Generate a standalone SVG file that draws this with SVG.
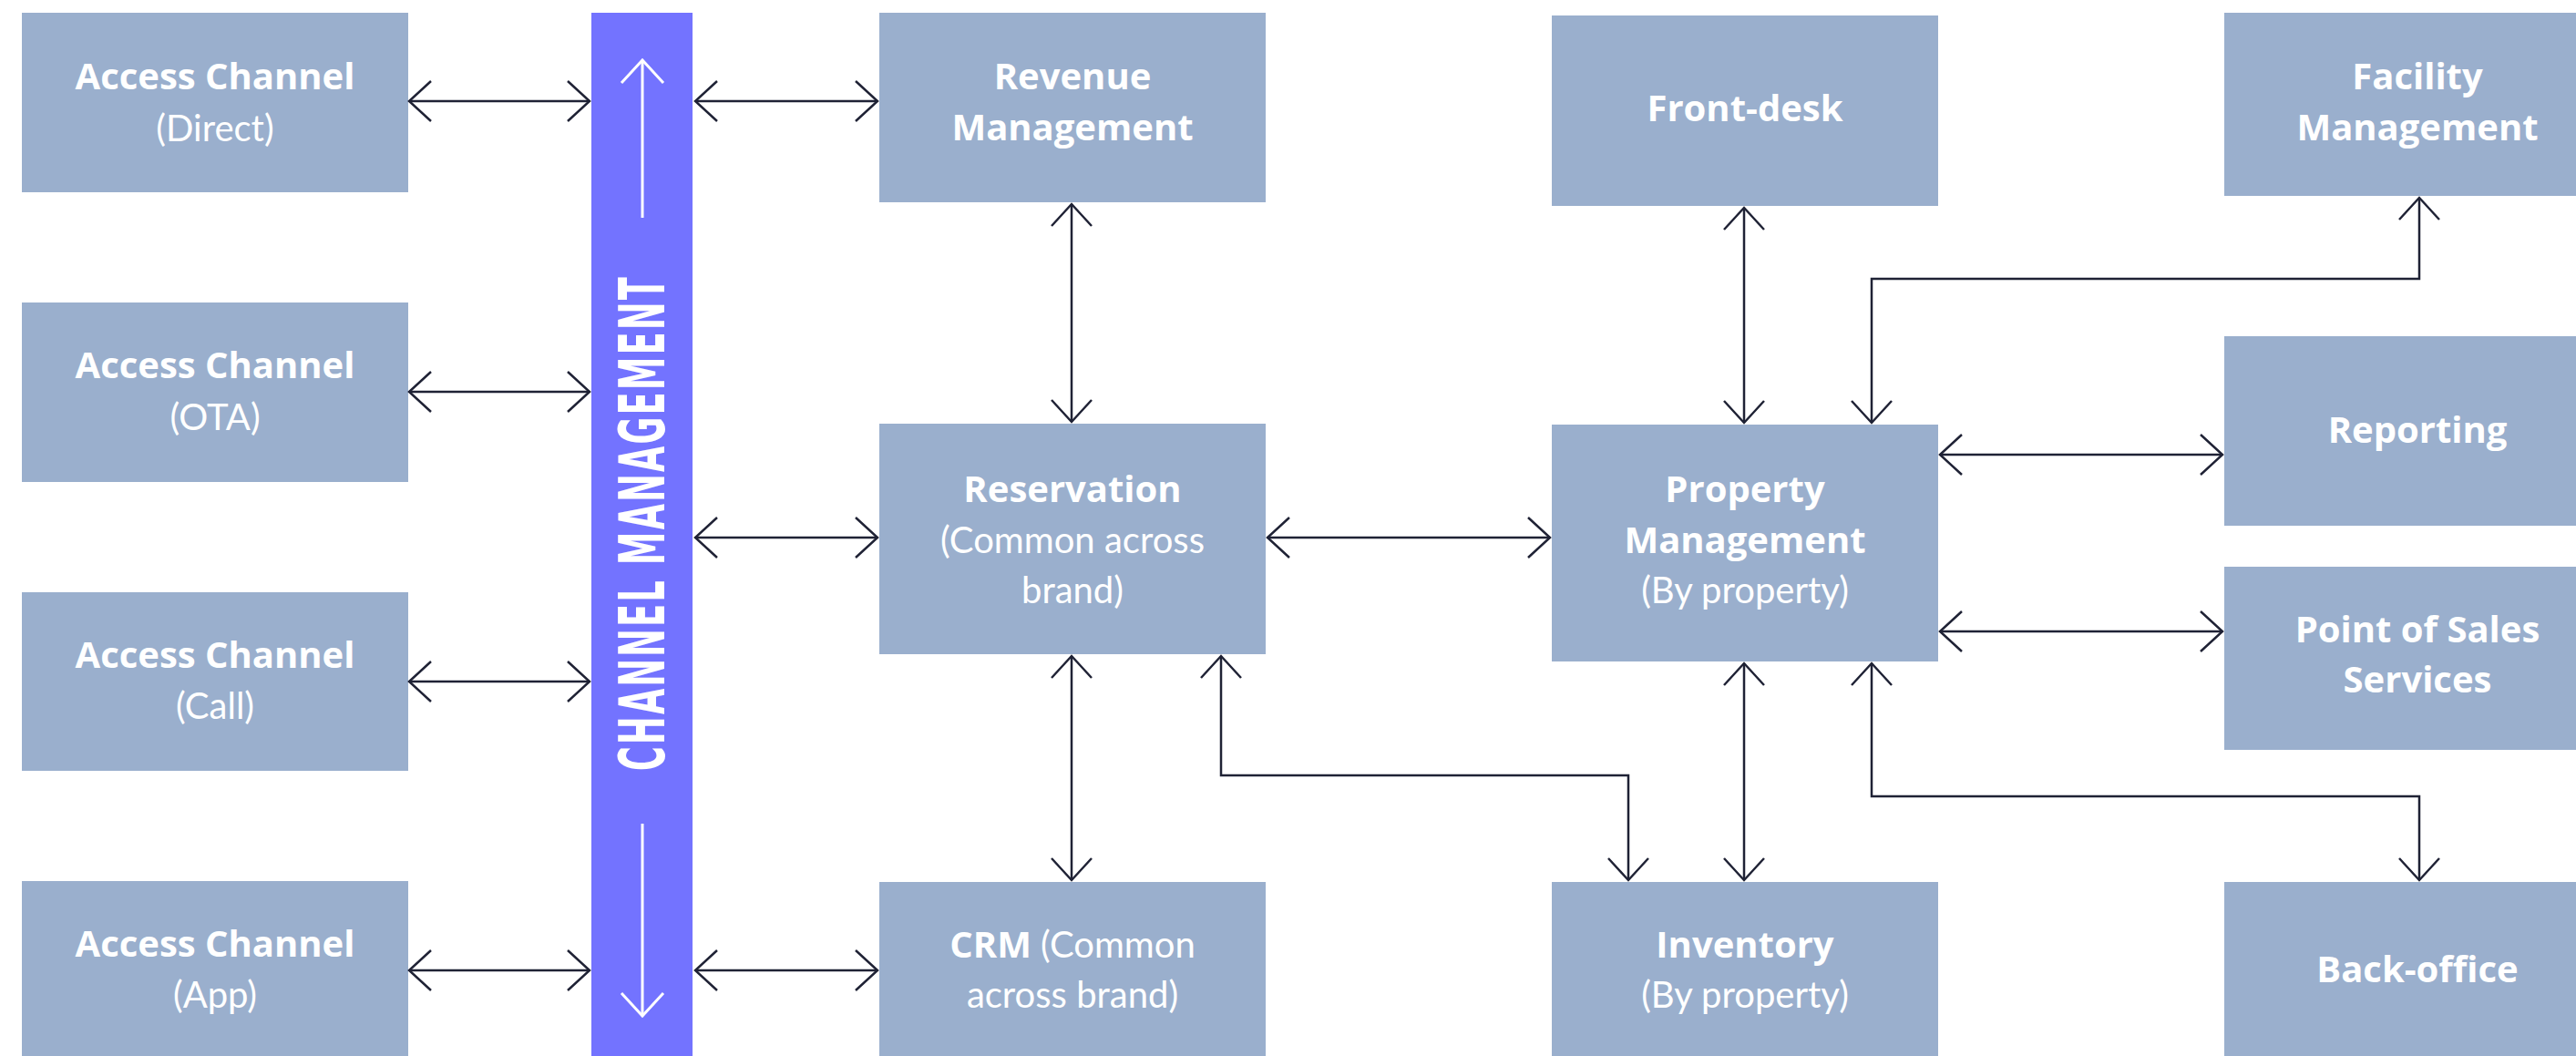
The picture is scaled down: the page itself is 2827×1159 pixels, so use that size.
<svg xmlns="http://www.w3.org/2000/svg" width="2827" height="1159" viewBox="0 0 2827 1159">
<style>
.box{fill:#9aafcd}
.t{font-family:"Open Sans","Lato","Liberation Sans",sans-serif;font-weight:700;font-size:40px;fill:#fff;text-anchor:middle}
.s{font-family:"Lato","Open Sans","Liberation Sans",sans-serif;font-weight:400;font-size:40px;fill:#fff;text-anchor:middle}
.b{font-family:"Open Sans","Lato","Liberation Sans",sans-serif;font-weight:700}
.c{fill:none;stroke:#1f2235;stroke-width:2.5;marker-start:url(#ah);marker-end:url(#ah)}
.w{fill:none;stroke:#fff;stroke-width:3;marker-end:url(#wh)}
.bar{fill:#7373ff}
.bt{font-family:"Liberation Sans Narrow","DejaVu Sans Condensed","Roboto",sans-serif;font-weight:700;font-size:69px;fill:#fff;text-anchor:middle;letter-spacing:4px}
</style>
<defs>
<marker id="ah" markerUnits="userSpaceOnUse" viewBox="-30 -30 40 60" markerWidth="40" markerHeight="60" refX="0" refY="0" orient="auto-start-reverse" overflow="visible">
<path d="M-24,-22 L0,0 L-24,22" fill="none" stroke="#1f2235" stroke-width="2.5"/>
</marker>
<marker id="wh" markerUnits="userSpaceOnUse" viewBox="-30 -30 40 60" markerWidth="40" markerHeight="60" refX="0" refY="0" orient="auto" overflow="visible">
<path d="M-25,-23 L0,0 L-25,23" fill="none" stroke="#fff" stroke-width="3"/>
</marker>
</defs>
<rect width="2827" height="1159" fill="#fff"/>

<g id="channel-management">
<rect class="bar" x="649" y="14" width="111" height="1150"/>
<text class="bt" transform="translate(729,574) rotate(-90)" textLength="544" lengthAdjust="spacingAndGlyphs">CHANNEL MANAGEMENT</text>
<line class="w" x1="705" y1="239" x2="705" y2="66"/>
<line class="w" x1="705" y1="904" x2="705" y2="1115"/>
</g>

<g id="access-direct">
<rect class="box" x="24" y="14" width="424" height="197"/>
<text class="t" x="236" y="98">Access Channel</text>
<text class="s" x="236" y="155">(Direct)</text>
</g>
<g id="access-ota">
<rect class="box" x="24" y="332" width="424" height="197"/>
<text class="t" x="236" y="415">Access Channel</text>
<text class="s" x="236" y="472">(OTA)</text>
</g>
<g id="access-call">
<rect class="box" x="24" y="650" width="424" height="196"/>
<text class="t" x="236" y="733">Access Channel</text>
<text class="s" x="236" y="789">(Call)</text>
</g>
<g id="access-app">
<rect class="box" x="24" y="967" width="424" height="200"/>
<text class="t" x="236" y="1050">Access Channel</text>
<text class="s" x="236" y="1106">(App)</text>
</g>

<g id="revenue">
<rect class="box" x="965" y="14" width="424" height="208"/>
<text class="t" x="1177" y="98">Revenue</text>
<text class="t" x="1177" y="154">Management</text>
</g>
<g id="reservation">
<rect class="box" x="965" y="465" width="424" height="253"/>
<text class="t" x="1177" y="551">Reservation</text>
<text class="s" x="1177" y="607">(Common across</text>
<text class="s" x="1177" y="662">brand)</text>
</g>
<g id="crm">
<rect class="box" x="965" y="968" width="424" height="200"/>
<text class="s" x="1177" y="1051"><tspan class="b">CRM</tspan> (Common</text>
<text class="s" x="1177" y="1106">across brand)</text>
</g>

<g id="front-desk">
<rect class="box" x="1703" y="17" width="424" height="209"/>
<text class="t" x="1915" y="133">Front-desk</text>
</g>
<g id="property">
<rect class="box" x="1703" y="466" width="424" height="260"/>
<text class="t" x="1915" y="551">Property</text>
<text class="t" x="1915" y="607">Management</text>
<text class="s" x="1915" y="662">(By property)</text>
</g>
<g id="inventory">
<rect class="box" x="1703" y="968" width="424" height="200"/>
<text class="t" x="1915" y="1051">Inventory</text>
<text class="s" x="1915" y="1106">(By property)</text>
</g>

<g id="facility">
<rect class="box" x="2441" y="14" width="424" height="201"/>
<text class="t" x="2653" y="98">Facility</text>
<text class="t" x="2653" y="154">Management</text>
</g>
<g id="reporting">
<rect class="box" x="2441" y="369" width="424" height="208"/>
<text class="t" x="2653" y="486">Reporting</text>
</g>
<g id="pos">
<rect class="box" x="2441" y="622" width="424" height="201"/>
<text class="t" x="2653" y="705">Point of Sales</text>
<text class="t" x="2653" y="760">Services</text>
</g>
<g id="back-office">
<rect class="box" x="2441" y="968" width="424" height="200"/>
<text class="t" x="2653" y="1078">Back-office</text>
</g>

<g id="connectors">
<path class="c" d="M449,111 H647"/>
<path class="c" d="M449,430 H647"/>
<path class="c" d="M449,748 H647"/>
<path class="c" d="M449,1065 H647"/>
<path class="c" d="M763,111 H963"/>
<path class="c" d="M763,590 H963"/>
<path class="c" d="M763,1065 H963"/>
<path class="c" d="M1176,224 V463"/>
<path class="c" d="M1176,720 V966"/>
<path class="c" d="M1391,590 H1701"/>
<path class="c" d="M1340,720 V851 H1787 V966"/>
<path class="c" d="M1914,228 V464"/>
<path class="c" d="M2054,464 V306 H2655 V217"/>
<path class="c" d="M2129,499 H2439"/>
<path class="c" d="M2129,693 H2439"/>
<path class="c" d="M1914,728 V966"/>
<path class="c" d="M2054,728 V874 H2655 V966"/>
</g>
</svg>
